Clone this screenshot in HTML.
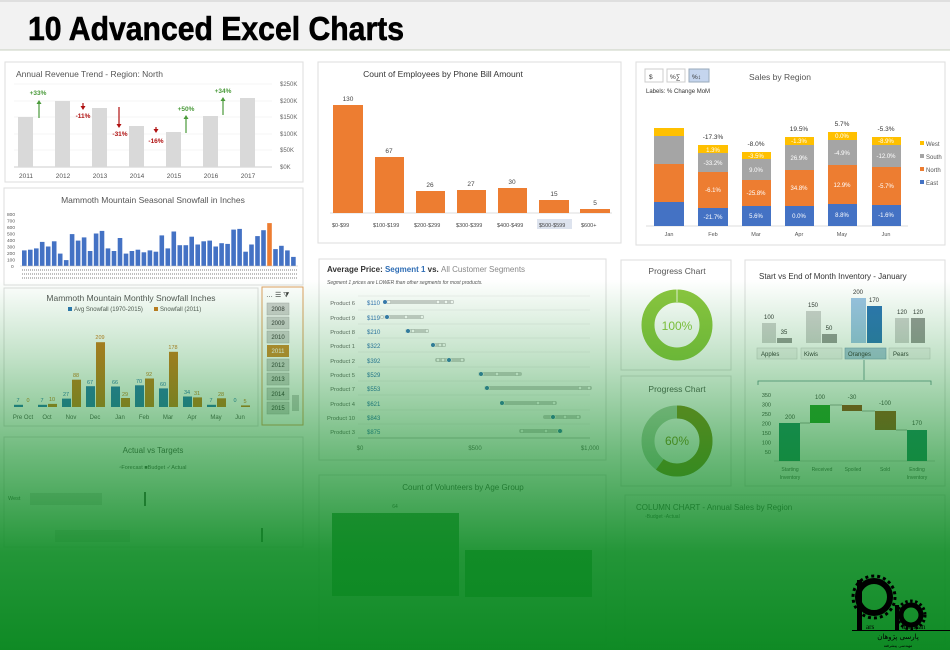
<!DOCTYPE html>
<html><head><meta charset="utf-8"><style>
html,body{margin:0;padding:0;background:#fff}
svg{display:block}
text{font-family:"Liberation Sans",sans-serif}
</style></head><body>
<svg width="950" height="650" viewBox="0 0 950 650" xmlns="http://www.w3.org/2000/svg">
<defs>
<linearGradient id="ov" x1="0" y1="0" x2="0" y2="1">
<stop offset="0" stop-color="#0b8a22" stop-opacity="0"/>
<stop offset="0.43" stop-color="#0b8a22" stop-opacity="0"/>
<stop offset="0.55" stop-color="#0b8a22" stop-opacity="0.25"/>
<stop offset="0.7" stop-color="#0b8a22" stop-opacity="0.6"/>
<stop offset="0.85" stop-color="#0b8a22" stop-opacity="0.9"/>
<stop offset="1" stop-color="#0a8820" stop-opacity="0.98"/>
</linearGradient>
</defs>
<rect width="950" height="650" fill="#fff"/>
<rect width="950" height="50" fill="#f2f2f2"/>
<line x1="0" y1="50" x2="950" y2="50" stroke="#c8d0c0"/>
<line x1="0" y1="1" x2="950" y2="1" stroke="#ccc"/>
<text x="28" y="40" font-size="33" font-weight="bold" textLength="376" lengthAdjust="spacingAndGlyphs" fill="#000" stroke="#000" stroke-width="0.6">10 Advanced Excel Charts</text>

<!-- Panel 1: Annual revenue -->
<rect x="5" y="62" width="298" height="120" fill="#fff" stroke="#ddd"/>
<text x="16" y="77" font-size="8.5" fill="#555">Annual Revenue Trend - Region: North</text>
<g stroke="#eee" stroke-width="0.6"><line x1="14" y1="84" x2="272" y2="84"/><line x1="14" y1="101" x2="272" y2="101"/><line x1="14" y1="117" x2="272" y2="117"/><line x1="14" y1="134" x2="272" y2="134"/><line x1="14" y1="150" x2="272" y2="150"/></g>
<line x1="14" y1="167" x2="272" y2="167" stroke="#ccc"/>
<g fill="#d9d9d9">
<rect x="18" y="117" width="15" height="50"/><rect x="55" y="101" width="15" height="66"/><rect x="92" y="108" width="15" height="59"/><rect x="129" y="126" width="15" height="41"/><rect x="166" y="132" width="15" height="35"/><rect x="203" y="116" width="15" height="51"/><rect x="240" y="98" width="15" height="69"/>
</g>
<g font-size="6" fill="#666"><text x="280" y="86">$250K</text><text x="280" y="103">$200K</text><text x="280" y="119">$150K</text><text x="280" y="136">$100K</text><text x="280" y="152">$50K</text><text x="280" y="169">$0K</text></g>
<g font-size="6.5" fill="#555" text-anchor="middle"><text x="26" y="178">2011</text><text x="63" y="178">2012</text><text x="100" y="178">2013</text><text x="137" y="178">2014</text><text x="174" y="178">2015</text><text x="211" y="178">2016</text><text x="248" y="178">2017</text></g>
<g font-size="6.5" font-weight="bold">
<text x="38" y="95" fill="#4a9a3a" text-anchor="middle">+33%</text><text x="83" y="118" fill="#b01010" text-anchor="middle">-11%</text><text x="120" y="136" fill="#b01010" text-anchor="middle">-31%</text><text x="156" y="143" fill="#b01010" text-anchor="middle">-16%</text><text x="186" y="111" fill="#4a9a3a" text-anchor="middle">+50%</text><text x="223" y="93" fill="#4a9a3a" text-anchor="middle">+34%</text></g>
<g stroke-width="1.2">
<line x1="39" y1="103" x2="39" y2="118" stroke="#4a9a3a"/><line x1="83" y1="103" x2="83" y2="108" stroke="#b01010"/><line x1="119" y1="107" x2="119" y2="125" stroke="#b01010"/><line x1="156" y1="127" x2="156" y2="131" stroke="#b01010"/><line x1="186" y1="118" x2="186" y2="133" stroke="#4a9a3a"/><line x1="223" y1="100" x2="223" y2="115" stroke="#4a9a3a"/></g>
<g><path d="M36.5 104 L39 100 L41.5 104Z" fill="#4a9a3a"/><path d="M183.5 119 L186 115 L188.5 119Z" fill="#4a9a3a"/><path d="M220.5 101 L223 97 L225.5 101Z" fill="#4a9a3a"/>
<path d="M80.5 106 L83 110 L85.5 106Z" fill="#b01010"/><path d="M116.5 124 L119 128 L121.5 124Z" fill="#b01010"/><path d="M153.5 129 L156 133 L158.5 129Z" fill="#b01010"/></g>

<!-- Panel 2: seasonal snowfall -->
<rect x="4" y="188" width="299" height="97" fill="#fff" stroke="#ddd"/>
<text x="153" y="203" font-size="8.5" fill="#555" text-anchor="middle">Mammoth Mountain Seasonal Snowfall in Inches</text>
<g font-size="4.8" fill="#555"><text x="7" y="216">800</text><text x="7" y="222.5">700</text><text x="7" y="229">600</text><text x="7" y="235.5">500</text><text x="7" y="242">400</text><text x="7" y="248.5">300</text><text x="7" y="255">200</text><text x="7" y="261.5">100</text><text x="11" y="268">0</text></g>
<g fill="#4472c4">
<rect x="22.0" y="250.4" width="4.6" height="15.6"/><rect x="28.0" y="249.7" width="4.6" height="16.3"/><rect x="34.0" y="248.4" width="4.6" height="17.6"/><rect x="39.9" y="241.9" width="4.6" height="24.1"/><rect x="45.9" y="246.5" width="4.6" height="19.5"/><rect x="51.9" y="241.3" width="4.6" height="24.7"/><rect x="57.9" y="253.6" width="4.6" height="12.4"/><rect x="63.9" y="260.1" width="4.6" height="5.9"/><rect x="69.8" y="234.1" width="4.6" height="31.9"/><rect x="75.8" y="240.6" width="4.6" height="25.4"/><rect x="81.8" y="237.4" width="4.6" height="28.6"/><rect x="87.8" y="251" width="4.6" height="15"/><rect x="93.8" y="233.5" width="4.6" height="32.5"/><rect x="99.7" y="230.9" width="4.6" height="35.1"/><rect x="105.7" y="248.4" width="4.6" height="17.6"/><rect x="111.7" y="251" width="4.6" height="15"/><rect x="117.7" y="238" width="4.6" height="28"/><rect x="123.7" y="253.6" width="4.6" height="12.4"/><rect x="129.6" y="251" width="4.6" height="15"/><rect x="135.6" y="249.7" width="4.6" height="16.3"/><rect x="141.6" y="252.3" width="4.6" height="13.7"/><rect x="147.6" y="250.4" width="4.6" height="15.6"/><rect x="153.6" y="251.7" width="4.6" height="14.3"/><rect x="159.5" y="235.4" width="4.6" height="30.6"/><rect x="165.5" y="248.4" width="4.6" height="17.6"/><rect x="171.5" y="231.5" width="4.6" height="34.5"/><rect x="177.5" y="245.2" width="4.6" height="20.8"/><rect x="183.5" y="245.2" width="4.6" height="20.8"/><rect x="189.4" y="236.7" width="4.6" height="29.3"/><rect x="195.4" y="244.5" width="4.6" height="21.5"/><rect x="201.4" y="241.3" width="4.6" height="24.7"/><rect x="207.4" y="240.6" width="4.6" height="25.4"/><rect x="213.4" y="246.5" width="4.6" height="19.5"/><rect x="219.3" y="243.2" width="4.6" height="22.8"/><rect x="225.3" y="243.9" width="4.6" height="22.1"/><rect x="231.3" y="229.6" width="4.6" height="36.4"/><rect x="237.3" y="228.9" width="4.6" height="37.1"/><rect x="243.3" y="251.7" width="4.6" height="14.3"/><rect x="249.2" y="244.5" width="4.6" height="21.5"/><rect x="255.2" y="236.1" width="4.6" height="29.9"/><rect x="261.2" y="230.2" width="4.6" height="35.8"/><rect x="273.2" y="249.1" width="4.6" height="16.9"/><rect x="279.1" y="245.8" width="4.6" height="20.2"/><rect x="285.1" y="250.4" width="4.6" height="15.6"/><rect x="291.1" y="256.9" width="4.6" height="9.1"/>
</g>
<rect x="267.2" y="223.1" width="4.6" height="42.9" fill="#ed7d31"/>
<line x1="20" y1="266" x2="298" y2="266" stroke="#bbb" stroke-width="0.5"/>
<g stroke="#999" stroke-width="1.2" stroke-dasharray="1 1"><line x1="22" y1="270" x2="298" y2="270"/><line x1="22" y1="274" x2="298" y2="274"/><line x1="22" y1="278" x2="298" y2="278"/></g>

<!-- Panel 3: monthly snowfall -->
<rect x="4" y="288" width="254" height="138" fill="#fff" stroke="#ddd"/>
<text x="131" y="301" font-size="8.5" fill="#555" text-anchor="middle">Mammoth Mountain Monthly Snowfall Inches</text>
<rect x="68" y="307" width="4" height="4" fill="#2e75b6"/><text x="74" y="311" font-size="6" fill="#555">Avg Snowfall (1970-2015)</text>
<rect x="154" y="307" width="4" height="4" fill="#c97a20"/><text x="160" y="311" font-size="6" fill="#555">Snowfall (2011)</text>
<g fill="#2e75b6">
<rect x="14" y="404.8" width="9" height="2.2"/><rect x="38" y="404.8" width="9" height="2.2"/><rect x="62" y="398.6" width="9" height="8.4"/><rect x="86" y="386.2" width="9" height="20.8"/><rect x="111" y="386.5" width="9" height="20.5"/><rect x="135" y="385.3" width="9" height="21.7"/><rect x="159" y="388.4" width="9" height="18.6"/><rect x="183" y="396.5" width="9" height="10.5"/><rect x="207" y="404.8" width="9" height="2.2"/></g>
<g fill="#c97a20">
<rect x="48" y="403.9" width="9" height="3.1"/><rect x="72" y="379.7" width="9" height="27.3"/><rect x="96" y="342.2" width="9" height="64.8"/><rect x="121" y="398" width="9" height="9"/><rect x="145" y="378.5" width="9" height="28.5"/><rect x="169" y="351.8" width="9" height="55.2"/><rect x="193" y="397.4" width="9" height="9.6"/><rect x="217" y="398.3" width="9" height="8.7"/><rect x="241" y="405.4" width="9" height="1.6"/></g>
<g font-size="5.5" text-anchor="middle" fill="#2e75b6"><text x="18" y="402">7</text><text x="42" y="402">7</text><text x="66" y="396">27</text><text x="90" y="384">67</text><text x="115" y="384">66</text><text x="139" y="383">70</text><text x="163" y="386">60</text><text x="187" y="394">34</text><text x="211" y="402">7</text><text x="235" y="402">0</text></g>
<g font-size="5.5" text-anchor="middle" fill="#c97a20"><text x="28" y="402">0</text><text x="52" y="401">10</text><text x="76" y="377">88</text><text x="100" y="339">209</text><text x="125" y="396">29</text><text x="149" y="376">92</text><text x="173" y="349">178</text><text x="197" y="395">31</text><text x="221" y="396">28</text><text x="245" y="403">5</text></g>
<g font-size="6" text-anchor="middle" fill="#555"><text x="23" y="419">Pre Oct</text><text x="47" y="419">Oct</text><text x="71" y="419">Nov</text><text x="95" y="419">Dec</text><text x="120" y="419">Jan</text><text x="144" y="419">Feb</text><text x="168" y="419">Mar</text><text x="192" y="419">Apr</text><text x="216" y="419">May</text><text x="240" y="419">Jun</text></g>
<!-- slicer -->
<rect x="262" y="287" width="41" height="138" fill="#fff" stroke="#e0a060"/>
<text x="266" y="297" font-size="7" fill="#333">…  ☰  ⧩</text>
<g fill="#cfcfcf" stroke="#aaa" stroke-width="0.5">
<rect x="267" y="303" width="22" height="12"/><rect x="267" y="317" width="22" height="12"/><rect x="267" y="331" width="22" height="12"/><rect x="267" y="359" width="22" height="12"/><rect x="267" y="373" width="22" height="12"/><rect x="267" y="388" width="22" height="12"/><rect x="267" y="402" width="22" height="12"/></g>
<rect x="267" y="345" width="22" height="12" fill="#d08a30"/>
<g font-size="6" text-anchor="middle" fill="#333"><text x="278" y="311">2008</text><text x="278" y="325">2009</text><text x="278" y="339">2010</text><text x="278" y="353" fill="#fff">2011</text><text x="278" y="367">2012</text><text x="278" y="381">2013</text><text x="278" y="396">2014</text><text x="278" y="410">2015</text></g>
<rect x="292" y="395" width="7" height="16" fill="#ccc"/>

<!-- Panel 4 faded -->
<rect x="4" y="437" width="299" height="110" fill="#fff" stroke="#ddd"/>
<text x="153" y="453" font-size="8" fill="#555" text-anchor="middle">Actual vs Targets</text>
<text x="153" y="469" font-size="5.5" fill="#555" text-anchor="middle">▫Forecast ■Budget ✓Actual</text>
<text x="8" y="500" font-size="5.5" fill="#555">West</text>
<rect x="30" y="493" width="72" height="12" fill="#ddd"/><rect x="144" y="492" width="2" height="14" fill="#555"/>
<rect x="55" y="530" width="75" height="12" fill="#ddd"/><rect x="261" y="528" width="2" height="14" fill="#555"/>

<!-- Employees chart -->
<rect x="318" y="62" width="303" height="181" fill="#fff" stroke="#ddd"/>
<text x="443" y="77" font-size="8.5" fill="#333" text-anchor="middle">Count of Employees by Phone Bill Amount</text>
<line x1="330" y1="213" x2="612" y2="213" stroke="#ddd"/>
<g fill="#ed7d31">
<rect x="333" y="105" width="30" height="108"/><rect x="375" y="157" width="29" height="56"/><rect x="416" y="191" width="29" height="22"/><rect x="457" y="190" width="29" height="23"/><rect x="498" y="188" width="29" height="25"/><rect x="539" y="200" width="30" height="13"/><rect x="580" y="209" width="30" height="4"/></g>
<g font-size="6.5" fill="#444" text-anchor="middle"><text x="348" y="101">130</text><text x="389" y="153">67</text><text x="430" y="187">26</text><text x="471" y="186">27</text><text x="512" y="184">30</text><text x="554" y="196">15</text><text x="595" y="205">5</text></g>
<rect x="537" y="219" width="35" height="10" fill="#dde3ee"/>
<g font-size="5.5" fill="#444"><text x="332" y="227">$0-$99</text><text x="373" y="227">$100-$199</text><text x="414" y="227">$200-$299</text><text x="456" y="227">$300-$399</text><text x="497" y="227">$400-$499</text><text x="539" y="227">$500-$599</text><text x="581" y="227">$600+</text></g>

<!-- Sales by region -->
<rect x="636" y="62" width="309" height="183" fill="#fff" stroke="#ddd"/>
<rect x="645" y="69" width="18" height="13" fill="#fff" stroke="#ccc"/><rect x="667" y="69" width="18" height="13" fill="#fff" stroke="#ccc"/><rect x="689" y="69" width="20" height="13" fill="#c5d5ee" stroke="#9ab"/>
<g font-size="6.5" fill="#333"><text x="649" y="79">$</text><text x="670" y="79">%∑</text><text x="692" y="79">%↕</text></g>
<text x="646" y="93" font-size="6" fill="#333">Labels: % Change MoM</text>
<text x="780" y="80" font-size="8.5" fill="#555" text-anchor="middle">Sales by Region</text>
<line x1="646" y1="226" x2="908" y2="226" stroke="#ddd"/>
<g>
<rect x="654" y="202" width="30" height="24" fill="#4472c4"/><rect x="654" y="164" width="30" height="38" fill="#ed7d31"/><rect x="654" y="136" width="30" height="28" fill="#a5a5a5"/><rect x="654" y="128" width="30" height="8" fill="#ffc000"/>
<rect x="698" y="208" width="30" height="18" fill="#4472c4"/><rect x="698" y="172" width="30" height="36" fill="#ed7d31"/><rect x="698" y="153" width="30" height="19" fill="#a5a5a5"/><rect x="698" y="145" width="30" height="8" fill="#ffc000"/>
<rect x="742" y="206" width="29" height="20" fill="#4472c4"/><rect x="742" y="180" width="29" height="26" fill="#ed7d31"/><rect x="742" y="159" width="29" height="21" fill="#a5a5a5"/><rect x="742" y="152" width="29" height="7" fill="#ffc000"/>
<rect x="785" y="206" width="29" height="20" fill="#4472c4"/><rect x="785" y="170" width="29" height="36" fill="#ed7d31"/><rect x="785" y="145" width="29" height="25" fill="#a5a5a5"/><rect x="785" y="137" width="29" height="8" fill="#ffc000"/>
<rect x="828" y="204" width="29" height="22" fill="#4472c4"/><rect x="828" y="165" width="29" height="39" fill="#ed7d31"/><rect x="828" y="140" width="29" height="25" fill="#a5a5a5"/><rect x="828" y="132" width="29" height="8" fill="#ffc000"/>
<rect x="872" y="205" width="29" height="21" fill="#4472c4"/><rect x="872" y="167" width="29" height="38" fill="#ed7d31"/><rect x="872" y="145" width="29" height="22" fill="#a5a5a5"/><rect x="872" y="137" width="29" height="8" fill="#ffc000"/>
</g>
<g font-size="6" fill="#fff" text-anchor="middle">
<text x="713" y="219">-21.7%</text><text x="713" y="192">-6.1%</text><text x="713" y="165">-33.2%</text><text x="713" y="152">1.3%</text>
<text x="756" y="218">5.6%</text><text x="756" y="195">-25.8%</text><text x="756" y="172">9.0%</text><text x="756" y="158">-3.5%</text>
<text x="799" y="218">0.0%</text><text x="799" y="190">34.8%</text><text x="799" y="160">26.9%</text><text x="799" y="143">-1.3%</text>
<text x="842" y="217">8.8%</text><text x="842" y="187">12.9%</text><text x="842" y="155">-4.9%</text><text x="842" y="138">0.0%</text>
<text x="886" y="217">-1.6%</text><text x="886" y="188">-5.7%</text><text x="886" y="158">-12.0%</text><text x="886" y="143">-8.9%</text></g>
<g font-size="6.5" fill="#333" text-anchor="middle"><text x="713" y="139">-17.3%</text><text x="756" y="146">-8.0%</text><text x="799" y="131">19.5%</text><text x="842" y="126">5.7%</text><text x="886" y="131">-5.3%</text></g>
<g font-size="5.5" fill="#555" text-anchor="middle"><text x="669" y="236">Jan</text><text x="713" y="236">Feb</text><text x="756" y="236">Mar</text><text x="799" y="236">Apr</text><text x="842" y="236">May</text><text x="886" y="236">Jun</text></g>
<rect x="920" y="141" width="4" height="4" fill="#ffc000"/><rect x="920" y="154" width="4" height="4" fill="#a5a5a5"/><rect x="920" y="167" width="4" height="4" fill="#ed7d31"/><rect x="920" y="180" width="4" height="4" fill="#4472c4"/>
<g font-size="6" fill="#555"><text x="926" y="146">West</text><text x="926" y="159">South</text><text x="926" y="172">North</text><text x="926" y="185">East</text></g>

<!-- Price chart -->
<rect x="319" y="259" width="287" height="201" fill="#fff" stroke="#ddd"/>
<text x="327" y="272" font-size="8" font-weight="bold" fill="#333">Average Price: <tspan fill="#2e6db5">Segment 1</tspan> vs. <tspan fill="#888" font-weight="normal">All Customer Segments</tspan></text>
<text x="327" y="284" font-size="5" font-style="italic" fill="#555">Segment 1 prices are LOWER than other segments for most products.</text>
<g stroke="#e4e4e4" stroke-width="0.6"><line x1="358" y1="296" x2="590" y2="296"/><line x1="358" y1="310" x2="590" y2="310"/><line x1="358" y1="324" x2="590" y2="324"/><line x1="358" y1="338" x2="590" y2="338"/><line x1="358" y1="352" x2="590" y2="352"/><line x1="358" y1="367" x2="590" y2="367"/><line x1="358" y1="381" x2="590" y2="381"/><line x1="358" y1="395" x2="590" y2="395"/><line x1="358" y1="410" x2="590" y2="410"/><line x1="358" y1="424" x2="590" y2="424"/></g>
<line x1="358" y1="438" x2="590" y2="438" stroke="#888" stroke-width="0.6"/>
<g stroke="#cfcfcf" stroke-width="4" stroke-linecap="round">
<line x1="385" y1="302" x2="452" y2="302"/><line x1="386" y1="317" x2="422" y2="317"/><line x1="407" y1="331" x2="427" y2="331"/><line x1="433" y1="345" x2="444" y2="345"/><line x1="437" y1="360" x2="463" y2="360"/><line x1="480" y1="374" x2="520" y2="374"/><line x1="486" y1="388" x2="590" y2="388"/><line x1="502" y1="403" x2="555" y2="403"/><line x1="545" y1="417" x2="579" y2="417"/><line x1="521" y1="431" x2="561" y2="431"/></g>
<g fill="#fff" stroke="#aaa" stroke-width="0.5">
<circle cx="389" cy="302" r="1.8"/><circle cx="438" cy="302" r="1.8"/><circle cx="446" cy="302" r="1.8"/><circle cx="452" cy="302" r="1.8"/><circle cx="382" cy="317" r="1.8"/><circle cx="406" cy="317" r="1.8"/><circle cx="422" cy="317" r="1.8"/><circle cx="413" cy="331" r="1.8"/><circle cx="427" cy="331" r="1.8"/><circle cx="440" cy="345" r="1.8"/><circle cx="444" cy="345" r="1.8"/><circle cx="438" cy="360" r="1.8"/><circle cx="443" cy="360" r="1.8"/><circle cx="462" cy="360" r="1.8"/><circle cx="497" cy="374" r="1.8"/><circle cx="517" cy="374" r="1.8"/><circle cx="580" cy="388" r="1.8"/><circle cx="589" cy="388" r="1.8"/><circle cx="538" cy="403" r="1.8"/><circle cx="554" cy="403" r="1.8"/><circle cx="565" cy="417" r="1.8"/><circle cx="578" cy="417" r="1.8"/><circle cx="522" cy="431" r="1.8"/><circle cx="546" cy="431" r="1.8"/></g>
<g fill="#3a78b5" stroke="#fff" stroke-width="0.6">
<circle cx="385" cy="302" r="2.3"/><circle cx="387" cy="317" r="2.3"/><circle cx="408" cy="331" r="2.3"/><circle cx="433" cy="345" r="2.3"/><circle cx="449" cy="360" r="2.3"/><circle cx="481" cy="374" r="2.3"/><circle cx="487" cy="388" r="2.3"/><circle cx="502" cy="403" r="2.3"/><circle cx="553" cy="417" r="2.3"/><circle cx="560" cy="431" r="2.3"/></g>
<g font-size="5.8" fill="#666" text-anchor="end"><text x="355" y="305">Product 6</text><text x="355" y="320">Product 9</text><text x="355" y="334">Product 8</text><text x="355" y="348">Product 1</text><text x="355" y="363">Product 2</text><text x="355" y="377">Product 5</text><text x="355" y="391">Product 7</text><text x="355" y="406">Product 4</text><text x="355" y="420">Product 10</text><text x="355" y="434">Product 3</text></g>
<g font-size="6" fill="#2e6db5"><text x="367" y="305">$110</text><text x="367" y="320">$119</text><text x="367" y="334">$210</text><text x="367" y="348">$322</text><text x="367" y="363">$392</text><text x="367" y="377">$529</text><text x="367" y="391">$553</text><text x="367" y="406">$621</text><text x="367" y="420">$843</text><text x="367" y="434">$875</text></g>
<g font-size="6" fill="#666" text-anchor="middle"><text x="360" y="450">$0</text><text x="475" y="450">$500</text><text x="590" y="450">$1,000</text></g>

<!-- Progress charts -->
<rect x="621" y="260" width="110" height="110" fill="#fff" stroke="#ddd"/>
<text x="677" y="274" font-size="8.5" fill="#555" text-anchor="middle">Progress Chart</text>
<circle cx="677" cy="325" r="29" fill="none" stroke="#8cc63f" stroke-width="13"/>
<line x1="677" y1="289" x2="677" y2="302" stroke="#fff" stroke-width="0.8"/>
<text x="677" y="330" font-size="12" fill="#8cc63f" text-anchor="middle">100%</text>
<rect x="621" y="376" width="110" height="110" fill="#fff" stroke="#ddd"/>
<text x="677" y="392" font-size="8.5" fill="#555" text-anchor="middle">Progress Chart</text>
<circle cx="677" cy="441" r="29" fill="none" stroke="#b5cfb0" stroke-width="13"/>
<circle cx="677" cy="441" r="29" fill="none" stroke="#8b8a1e" stroke-width="13" stroke-dasharray="109.3 200" transform="rotate(-90 677 441)"/>
<text x="677" y="445" font-size="12" fill="#8b8a1e" text-anchor="middle">60%</text>

<!-- Inventory -->
<rect x="745" y="260" width="200" height="226" fill="#fff" stroke="#ddd"/>
<text x="759" y="279" font-size="8" fill="#333">Start vs End of Month Inventory - January</text>
<rect x="762" y="323" width="14" height="20" fill="#d0d0d0"/><rect x="777" y="338" width="15" height="5" fill="#999"/>
<rect x="806" y="311" width="15" height="32" fill="#d0d0d0"/><rect x="822" y="334" width="15" height="9" fill="#999"/>
<rect x="851" y="298" width="15" height="45" fill="#9dc3e6"/><rect x="867" y="306" width="15" height="37" fill="#2e75b6"/>
<rect x="895" y="318" width="14" height="25" fill="#d0d0d0"/><rect x="911" y="318" width="14" height="25" fill="#999"/>
<g font-size="6" fill="#333" text-anchor="middle"><text x="769" y="319">100</text><text x="784" y="334">35</text><text x="813" y="307">150</text><text x="829" y="330">50</text><text x="858" y="294">200</text><text x="874" y="302">170</text><text x="902" y="314">120</text><text x="918" y="314">120</text></g>
<g stroke="#ccc" stroke-width="0.6"><rect x="757" y="348" width="40" height="11" fill="#f2f2f2"/><rect x="801" y="348" width="41" height="11" fill="#f2f2f2"/><rect x="889" y="348" width="41" height="11" fill="#f2f2f2"/></g>
<rect x="845" y="348" width="41" height="11" fill="#a9c4dd" stroke="#7a9ab8" stroke-width="0.6"/>
<g font-size="6" fill="#333"><text x="761" y="356">Apples</text><text x="804" y="356">Kiwis</text><text x="848" y="356">Oranges</text><text x="893" y="356">Pears</text></g>
<g stroke="#5a8a8a" stroke-width="0.8" fill="none"><path d="M864 360 V380 M758 385 V381 H931 V385"/></g>
<g font-size="5.5" fill="#444" text-anchor="end"><text x="771" y="397">350</text><text x="771" y="406.5">300</text><text x="771" y="416">250</text><text x="771" y="425.5">200</text><text x="771" y="435">150</text><text x="771" y="444.5">100</text><text x="771" y="454">50</text></g>
<line x1="774" y1="461" x2="935" y2="461" stroke="#aaa" stroke-width="0.6"/>
<rect x="779" y="423" width="21" height="38" fill="#1f8a70"/>
<rect x="810" y="405" width="20" height="18" fill="#2ca02c"/>
<rect x="842" y="405" width="20" height="6" fill="#a0421a"/>
<rect x="875" y="411" width="21" height="19" fill="#a0521d"/>
<rect x="907" y="430" width="20" height="31" fill="#1f8a70"/>
<g stroke="#555" stroke-width="0.5"><line x1="800" y1="423" x2="810" y2="423"/><line x1="830" y1="405" x2="842" y2="405"/><line x1="862" y1="411" x2="875" y2="411"/><line x1="896" y1="430" x2="907" y2="430"/></g>
<g font-size="6" fill="#444" text-anchor="middle"><text x="790" y="419">200</text><text x="820" y="399">100</text><text x="852" y="399">-30</text><text x="885" y="405">-100</text><text x="917" y="425">170</text></g>
<g font-size="5" fill="#555" text-anchor="middle"><text x="790" y="471">Starting</text><text x="790" y="479">Inventory</text><text x="822" y="471">Received</text><text x="853" y="471">Spoiled</text><text x="885" y="471">Sold</text><text x="917" y="471">Ending</text><text x="917" y="479">Inventory</text></g>

<!-- Bottom faded charts -->
<rect x="319" y="475" width="287" height="170" fill="#fff" stroke="#ddd"/>
<text x="463" y="490" font-size="8" fill="#555" text-anchor="middle">Count of Volunteers by Age Group</text>
<text x="395" y="508" font-size="5" fill="#555" text-anchor="middle">64</text>
<rect x="332" y="513" width="127" height="83" fill="#4a9a55"/>
<rect x="465" y="550" width="127" height="47" fill="#4a9a55"/>
<rect x="625" y="495" width="320" height="150" fill="#fff" stroke="#ddd"/>
<text x="636" y="510" font-size="8" fill="#555">COLUMN CHART - Annual Sales by Region</text>
<text x="645" y="518" font-size="5" fill="#555">▫Budget   ▫Actual</text>

<!-- Green overlay -->
<rect x="0" y="0" width="950" height="650" fill="url(#ov)"/>

<!-- Logo -->
<g fill="#000">
<circle cx="874" cy="597" r="16" fill="none" stroke="#000" stroke-width="6"/>
<circle cx="874" cy="597" r="21" fill="none" stroke="#000" stroke-width="3" stroke-dasharray="3 3"/>
<circle cx="911" cy="615" r="10" fill="none" stroke="#000" stroke-width="5"/>
<circle cx="911" cy="615" r="14" fill="none" stroke="#000" stroke-width="3" stroke-dasharray="2.5 2.5"/>
<rect x="857" y="580" width="5" height="50"/>
<rect x="895" y="605" width="4" height="25"/>
<rect x="852" y="630" width="98" height="1"/>
<text x="866" y="629" font-size="7" fill="#000" style="font-family:'Liberation Serif',serif">ars</text>
<text x="902" y="629" font-size="7" fill="#000" style="font-family:'Liberation Serif',serif">azhuhan</text>
<text x="898" y="639" font-size="7" fill="#000" text-anchor="middle" style="font-family:'DejaVu Sans',sans-serif">پارسی پژوهان</text>
<text x="898" y="647" font-size="4" fill="#000" text-anchor="middle" style="font-family:'DejaVu Sans',sans-serif">مهندسی پیشرفته</text>
</g>
</svg>
</body></html>
